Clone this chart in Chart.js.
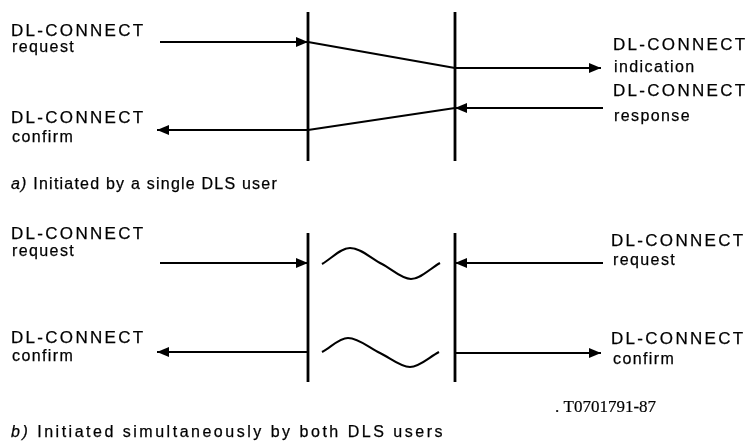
<!DOCTYPE html>
<html>
<head>
<meta charset="utf-8">
<script src="https://cdn.jsdelivr.net/npm/chart.js@4/dist/chart.umd.min.js"></script>
<style>
  html, body { margin: 0; padding: 0; background: #fff; }
  #wrap { width: 754px; height: 446px; }
</style>
</head>
<body>
<div id="wrap"><canvas id="diagram" width="754" height="446"></canvas></div>
<script>
// diagram units: same grid as the picture (0..754 across, 0..446 down)
const railX = [308, 455];
const railSpanA = [12, 161];
const railSpanB = [233, 382];

// [x0, y0, x1, y1], arrowhead at the second point
const arrowLines = [
  [160, 42, 308, 42],
  [455, 68, 601, 68],
  [603, 108, 455, 108],
  [308, 130, 157, 130],
  [160, 263, 308, 263],
  [603, 263, 455, 263],
  [308, 352, 157, 352],
  [455, 353, 601, 353]
];
// plain links across the service
const crossLines = [
  [308, 42, 455, 68],
  [455, 108, 308, 130]
];
// collision waves, points
const waveTop = [[322, 264], [350, 248], [382, 264], [411, 279], [440, 263]];
const waveBottom = [[322, 352], [348, 338], [380, 353], [410, 367], [439, 352]];

const labelText = [
  "DL-CONNECT", "request", "DL-CONNECT", "confirm",
  "DL-CONNECT", "indication", "DL-CONNECT", "response",
  "DL-CONNECT", "request", "DL-CONNECT", "confirm",
  "DL-CONNECT", "request", "DL-CONNECT", "confirm"
];
const labelX = [11, 12, 11, 12, 613, 614, 613, 614, 11, 12, 11, 12, 611, 613, 611, 613];
const labelY = [36, 52, 123, 142, 50, 72, 96, 121, 239, 256, 343, 361, 246, 265, 344, 364];

const captionTag = ["a)", "b)"];
const captionText = ["Initiated by a single DLS user", "Initiated simultaneously by both DLS users"];
const captionY = [189, 437];
const captionEnd = [278, 445];
const figureRef = ". T0701791-87";

const INK = "#000";
const SANS = "'Liberation Sans', Arial, sans-serif";

function seg(a) { return [{ x: a[0], y: a[1] }, { x: a[2], y: a[3] }]; }
function pts(list) { return list.map(p => ({ x: p[0], y: p[1] })); }

const datasets = [];
railX.forEach(x => {
  [railSpanA, railSpanB].forEach(span => {
    datasets.push({ data: [{ x, y: span[0] }, { x, y: span[1] }], borderWidth: 2.8 });
  });
});
crossLines.forEach(l => datasets.push({ data: seg(l), borderWidth: 2 }));
arrowLines.forEach(l => datasets.push({ data: seg(l), borderWidth: 2, arrow: true }));
[waveTop, waveBottom].forEach(w => datasets.push({ data: pts(w), borderWidth: 2.1, cubicInterpolationMode: "monotone" }));

datasets.forEach(d => {
  d.showLine = true;
  d.pointRadius = 0;
  d.borderColor = INK;
  d.fill = false;
  d.clip = false;
  d.tension = 0;
});

const arrowHeads = {
  id: "arrowHeads",
  afterDatasetsDraw(chart) {
    const ctx = chart.ctx;
    chart.data.datasets.forEach((ds, i) => {
      if (!ds.arrow) return;
      const el = chart.getDatasetMeta(i).data;
      const a = el[el.length - 2], b = el[el.length - 1];
      const ang = Math.atan2(b.y - a.y, b.x - a.x);
      const len = 12, half = 5;
      ctx.save();
      ctx.translate(b.x, b.y);
      ctx.rotate(ang);
      ctx.beginPath();
      ctx.moveTo(0, 0);
      ctx.lineTo(-len, -half);
      ctx.lineTo(-len, half);
      ctx.closePath();
      ctx.fillStyle = INK;
      ctx.fill();
      ctx.restore();
    });
  }
};

function ink(ctx, t, x, y) {
  ctx.fillText(t, x, y);
  ctx.strokeText(t, x, y);
}

const texts = {
  id: "texts",
  afterDraw(chart) {
    const ctx = chart.ctx;
    const sx = chart.scales.x, sy = chart.scales.y;
    ctx.save();
    ctx.fillStyle = INK;
    ctx.strokeStyle = INK;
    ctx.lineWidth = 0.25;
    ctx.textBaseline = "alphabetic";
    labelText.forEach((t, i) => {
      const big = t === t.toUpperCase();
      ctx.font = big ? "17px " + SANS : "16px " + SANS;
      ctx.letterSpacing = big ? "2.3px" : "1.4px";
      ink(ctx, t, sx.getPixelForValue(labelX[i]), sy.getPixelForValue(labelY[i]));
    });
    captionTag.forEach((tag, i) => {
      const x0 = sx.getPixelForValue(11), y0 = sy.getPixelForValue(captionY[i]);
      const x1 = sx.getPixelForValue(captionEnd[i]);
      // spread the caption so it spans as far as in the original
      ctx.letterSpacing = "0px";
      ctx.font = "italic 16px " + SANS;
      const wTag = ctx.measureText(tag + " ").width;
      ctx.font = "16px " + SANS;
      const wTxt = ctx.measureText(captionText[i]).width;
      const n = tag.length + 1 + captionText[i].length;
      const ls = Math.max(0, (x1 - x0 - wTag - wTxt) / n);
      ctx.letterSpacing = ls + "px";
      ctx.font = "italic 16px " + SANS;
      ink(ctx, tag, x0, y0);
      const w = ctx.measureText(tag + " ").width;
      ctx.font = "16px " + SANS;
      ink(ctx, captionText[i], x0 + w, y0);
    });
    ctx.letterSpacing = "0px";
    ctx.lineWidth = 0.2;
    ctx.font = "17px 'Liberation Serif', 'Times New Roman', serif";
    ink(ctx, figureRef, sx.getPixelForValue(555), sy.getPixelForValue(412));
    ctx.restore();
  }
};

new Chart(document.getElementById("diagram"), {
  type: "scatter",
  data: { datasets },
  options: {
    animation: false,
    responsive: false,
    events: [],
    layout: { padding: 0 },
    scales: {
      x: { type: "linear", min: 0, max: 754, display: false },
      y: { type: "linear", min: 0, max: 446, reverse: true, display: false }
    },
    plugins: {
      legend: { display: false },
      tooltip: { enabled: false },
      title: { display: false }
    }
  },
  plugins: [arrowHeads, texts]
});
</script>
</body>
</html>
